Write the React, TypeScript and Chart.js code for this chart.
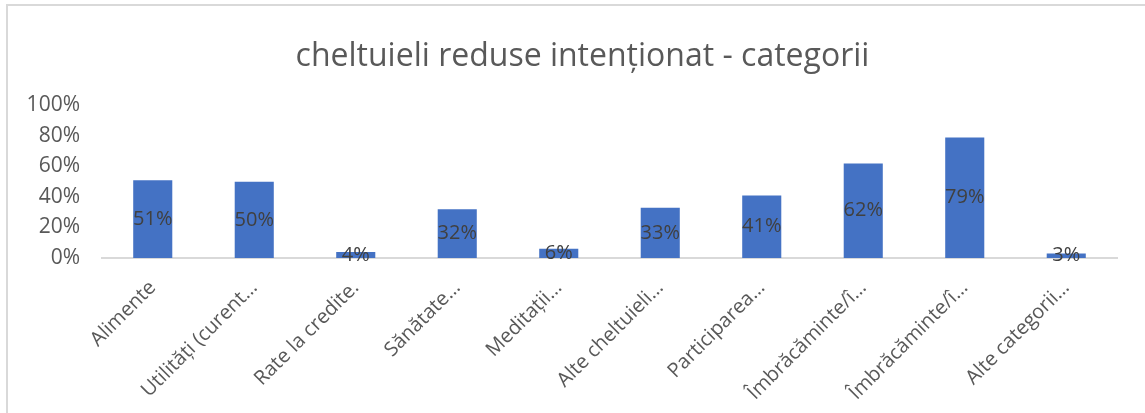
import React, { useEffect, useRef } from "react";
import { Chart, registerables } from "chart.js";

Chart.register(...registerables);

const categories = [
  "Alimente",
  "Utilități (curent…",
  "Rate la credite.",
  "Sănătate…",
  "Meditații…",
  "Alte cheltuieli…",
  "Participarea…",
  "Îmbrăcăminte/î…",
  "Îmbrăcăminte/î…",
  "Alte categorii…",
];
const values = [51, 50, 4, 32, 6, 33, 41, 62, 79, 3];
const yTicks = [0, 20, 40, 60, 80, 100];
const titleText = "cheltuieli reduse intenționat - categorii";

const FONT = "'Open Sans', 'Noto Sans', sans-serif";

const labelPlugin = {
  id: "barLabels",
  afterLayout(chart: any) {
    const tb = chart.titleBlock;
    if (tb) {
      tb.left += 24;
      tb.right += 24;
    }
  },
  afterDatasetsDraw(chart: any) {
    const ctx = chart.ctx;
    const meta = chart.getDatasetMeta(0);
    ctx.save();
    ctx.font = `20px ${FONT}`;
    ctx.fillStyle = "#404040";
    ctx.textAlign = "center";
    ctx.textBaseline = "middle";
    meta.data.forEach((bar: any, i: number) => {
      const y = (bar.y + bar.base) / 2;
      ctx.fillText(values[i] + "%", bar.x, y);
    });
    ctx.restore();
  },
};

export default function App() {
  const ref = useRef<HTMLCanvasElement | null>(null);
  useEffect(() => {
    document.body.style.margin = "0";
    const chart = new Chart(ref.current as HTMLCanvasElement, {
      type: "bar",
      data: {
        labels: categories,
        datasets: [
          {
            data: values,
            backgroundColor: "#4472C4",
            borderWidth: 0,
            barPercentage: 0.385,
            categoryPercentage: 1,
          },
        ],
      },
      options: {
        animation: false,
        responsive: false,
        maintainAspectRatio: false,
        layout: { padding: { left: 0, right: 28, top: 0, bottom: 0 } },
        plugins: {
          legend: { display: false },
          tooltip: { enabled: false },
          title: {
            display: true,
            text: titleText,
            color: "#595959",
            font: { family: FONT, size: 32, weight: "normal" as any, lineHeight: 1.2 },
            padding: { top: 38, bottom: 29 },
          },
        },
        scales: {
          x: {
            grid: { display: false },
            border: { display: true, color: "#d9d9d9", width: 2 },
            ticks: {
              color: "#595959",
              font: { family: FONT, size: 20 },
              maxRotation: 45,
              minRotation: 45,
              padding: 10,
              autoSkip: false,
            },
            afterFit(scale: any) {
              scale.height = 155;
            },
          },
          y: {
            min: 0,
            max: 100,
            afterBuildTicks(scale: any) {
              scale.ticks = yTicks.map((v) => ({ value: v }));
            },
            grid: { display: false },
            border: { display: false },
            ticks: {
              color: "#595959",
              font: { family: FONT, size: 21 },
              padding: 14,
              callback: (v: any) => v + "%",
            },
            afterFit(scale: any) {
              scale.width = 102;
            },
          },
        },
      },
      plugins: [labelPlugin],
    });
    return () => chart.destroy();
  }, []);
  return (
    <div style={{ position: "relative", width: 1145, height: 413, background: "#fff", overflow: "hidden" }}>
      <div
        style={{
          position: "absolute",
          left: 6,
          top: 4,
          width: 1200,
          height: 500,
          borderLeft: "2px solid #d9d9d9",
          borderTop: "2px solid #d9d9d9",
        }}
      />
      <canvas ref={ref} width={1145} height={413} style={{ position: "absolute", left: 0, top: 0 }} />
    </div>
  );
}
